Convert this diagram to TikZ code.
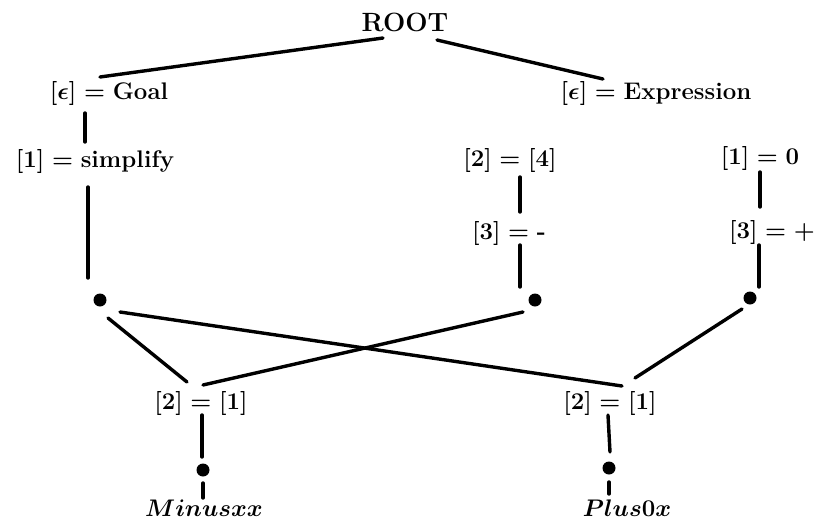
\documentclass[tikz,border=0pt]{standalone}
\usepackage{amsmath}
\begin{document}
\begin{tikzpicture}[x=0.5pt,y=-0.5pt,
  lbl/.style={inner sep=0pt, font=\fontsize{12}{14}\selectfont\bfseries\boldmath},
  toplbl/.style={inner sep=0pt, font=\fontsize{13.2}{15}\selectfont\bfseries},
  dot/.style={circle, fill=black, inner sep=0pt, minimum size=6.5pt},
  edge/.style={line width=1.7pt, line cap=round}]
\useasboundingbox (0,0) rectangle (821,520);

% labelled nodes
\node[toplbl] (root) at (405,22) {ROOT};
\node[lbl] (goal) at (109,93) {$[\epsilon] = \mbox{Goal}$};
\node[lbl] (expr) at (656,93) {$[\epsilon] = \mbox{Expression}$};
\node[lbl] (simp) at (95,161) {$[1] = \mbox{simplify}$};
\node[lbl] (two4) at (510,160) {$[2] = [4]$};
\node[lbl] (one0) at (760,158) {$[1] = 0$};
\node[lbl] (thrm) at (509,233) {$[3] = \mbox{-}$};
\node[lbl] (thrp) at (772,232) {$[3] = +$};
\node[lbl] (eqL) at (201,403) {$[2] = [1]$};
\node[lbl] (eqR) at (610,403) {$[2] = [1]$};
\node[lbl] (minus) at (204,508) {$Minusxx$};
\node[lbl] (plus) at (627,508) {$Plus0x$};

% merge points
\node[dot] (d1) at (100,300) {};
\node[dot] (d2) at (535,300) {};
\node[dot] (d3) at (750,298) {};
\node[dot] (d4) at (203,470) {};
\node[dot] (d5) at (609,468) {};

% connectors
\draw[edge] ([shift={(-22,16)}]root.center) -- ([shift={(-9,-16)}]goal.center);
\draw[edge] ([shift={(32,18)}]root.center) -- ([shift={(-53,-14)}]expr.center);
\draw[edge] ([shift={(-24,20)}]goal.center) -- ([shift={(-10,-19)}]simp.center);
\draw[edge] ([shift={(-7,26)}]simp.center) -- ([shift={(-12,-22)}]d1.center);
\draw[edge] ([shift={(10,17)}]two4.center) -- ([shift={(11,-21)}]thrm.center);
\draw[edge] ([shift={(11,12)}]thrm.center) -- ([shift={(-15,-13)}]d2.center);
\draw[edge] ([shift={(0,14)}]one0.center) -- ([shift={(-12,-25)}]thrp.center);
\draw[edge] ([shift={(-13,13)}]thrp.center) -- ([shift={(9,-11)}]d3.center);
\draw[edge] ([shift={(20,12)}]d1.center) -- ([shift={(12,-17)}]eqR.center);
\draw[edge] ([shift={(8,18)}]d1.center) -- ([shift={(-14,-21)}]eqL.center);
\draw[edge] ([shift={(-12,12)}]d2.center) -- ([shift={(2,-18)}]eqL.center);
\draw[edge] ([shift={(-8,11)}]d3.center) -- ([shift={(25,-25)}]eqR.center);
\draw[edge] ([shift={(1,12)}]eqL.center) -- ([shift={(-1,-13)}]d4.center);
\draw[edge] ([shift={(0,13)}]d4.center) -- ([shift={(-1,-10)}]minus.center);
\draw[edge] ([shift={(-2,12)}]eqR.center) -- ([shift={(1,-16)}]d5.center);
\draw[edge] ([shift={(0,14)}]d5.center) -- ([shift={(-18,-14)}]plus.center);
\end{tikzpicture}
\end{document}
